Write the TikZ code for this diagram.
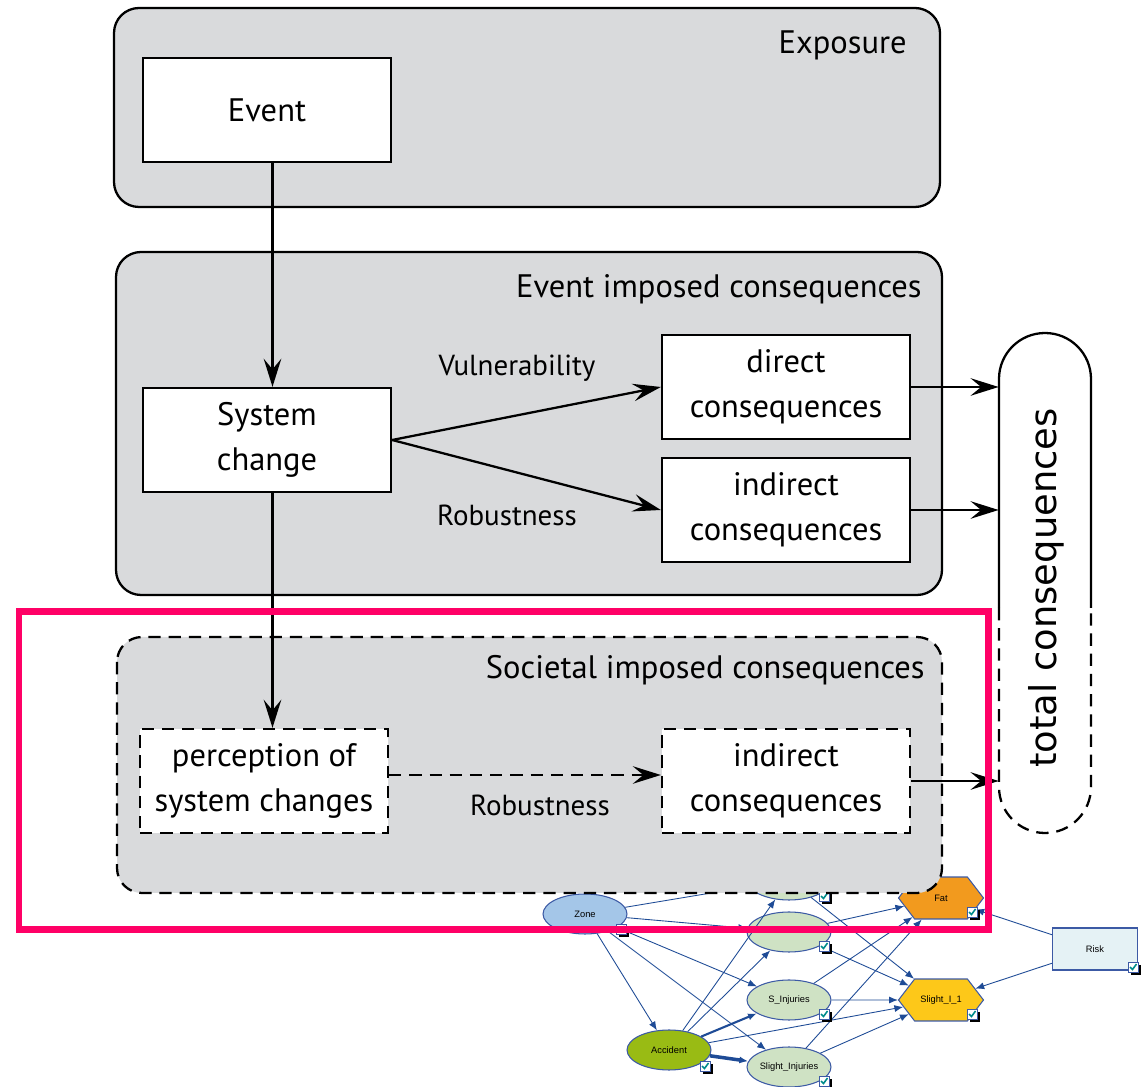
\documentclass[tikz,border=0pt]{standalone}
\usepackage{fontspec}
\setmainfont{PT Sans}
\newfontfamily\totalfont{DejaVu Sans}
\newfontfamily\netfont{Liberation Sans}
\usetikzlibrary{arrows.meta,shapes.geometric,shapes.symbols,positioning}

\definecolor{panelgray}{RGB}{217,218,220}
\definecolor{markpink}{RGB}{255,0,102}
\definecolor{netblue}{RGB}{30,75,150}
\definecolor{netline}{RGB}{60,90,165}
\definecolor{zonefill}{RGB}{164,198,232}
\definecolor{injfill}{RGB}{207,226,196}
\definecolor{accfill}{RGB}{153,187,20}
\definecolor{fatfill}{RGB}{242,154,30}
\definecolor{slightfill}{RGB}{253,200,25}
\definecolor{riskfill}{RGB}{229,242,245}
\definecolor{tickteal}{RGB}{0,140,140}

\tikzset{
  panel/.style={draw=black, fill=panelgray, line width=1.3pt, rounded corners=0.5cm},
  softline/.style={dash pattern=on 7pt off 4.5pt},
  box/.style={draw=black, fill=white, line width=1.3pt, minimum width=4.96cm, minimum height=2.08cm,
    align=center, inner sep=0pt, font=\fontsize{18.5}{25.5}\selectfont},
  softbox/.style={box, softline},
  title/.style={anchor=east, inner sep=0pt, font=\fontsize{18.5}{22}\selectfont},
  lbl/.style={inner sep=0pt, font=\fontsize{16.5}{20}\selectfont},
  flow/.style={line width=1.3pt, -{Stealth[length=16pt,width=10pt,inset=6pt]}},
  bnode/.style={draw=netline, line width=0.6pt, inner sep=0pt, font=\netfont\fontsize{5.3}{6}\selectfont},
  chance/.style={bnode, ellipse, minimum width=1.68cm, minimum height=0.8cm},
  utility/.style={bnode, signal, signal to=west and east, signal pointer angle=105,
    minimum width=1.7cm, minimum height=0.84cm},
  link/.style={draw=netblue, line width=0.5pt, -{Latex[length=5pt,width=4pt]}},
}

% small check box icon of the network tool
\newcommand{\tickicon}[2]{%
  \fill[black] (#1+3,#2+3) rectangle ++(10,10);
  \filldraw[fill=white, draw=netline, line width=0.3pt] (#1,#2) rectangle ++(10,10);
  \draw[tickteal, line width=0.9pt] (#1+2,#2+5) -- (#1+4.5,#2+7.5) -- (#1+8.5,#2+2);
}

\begin{document}
\begin{tikzpicture}[x=0.02cm, y=-0.02cm]
  \useasboundingbox (0,0) rectangle (1144,1087);
  \clip (0,0) rectangle (1144,1087);
  \fill[white] (0,0) rectangle (1144,1087);

  % network underneath
  \node[chance, fill=injfill] (top) at (789,880) {};
  \node[chance, fill=zonefill] (zone) at (585,914) {Zone};
  \node[chance, fill=injfill] (vsinj) at (789,932) {};
  \node[chance, fill=injfill] (sinj) at (789,1000) {S\_Injuries};
  \node[chance, fill=injfill] (slinj) at (789,1067) {Slight\_Injuries};
  \node[chance, fill=accfill] (acc) at (669,1050) {Accident};
  \node[utility, fill=fatfill] (fat) at (941,898) {Fat};
  \node[utility, fill=slightfill] (slight) at (941,1000) {Slight\_I\_1};
  \node[bnode, fill=riskfill, minimum width=1.7cm, minimum height=0.84cm] (risk) at (1095,949) {Risk};

  \draw[link] (zone) -- (top);
  \draw[link] (zone) -- (vsinj);
  \draw[link] (zone) -- (sinj);
  \draw[link] (zone) -- (slinj);
  \draw[link] (zone) -- (acc);
  \draw[link] (acc) -- (top);
  \draw[link] (acc) -- (vsinj);
  \draw[link, line width=1.2pt] (acc) -- (sinj);
  \draw[link, line width=2pt] (acc) -- (slinj);
  \draw[link] (acc) -- (slight);
  \draw[link] (top) -- (slight);
  \draw[link] (vsinj) -- (fat);
  \draw[link] (vsinj) -- (slight);
  \draw[link] (sinj) -- (fat);
  \draw[link] (sinj) -- (slight);
  \draw[link] (slinj) -- (fat);
  \draw[link] (slinj) -- (slight);
  \draw[link] (risk) -- (fat);
  \draw[link] (risk) -- (slight);

  \tickicon{616}{924}
  \tickicon{819}{891}
  \tickicon{819}{941}
  \tickicon{819}{1009}
  \tickicon{819}{1076}
  \tickicon{700}{1061}
  \tickicon{967}{907}
  \tickicon{967}{1009}
  \tickicon{1128}{962}

  % exposure
  \draw[panel] (114,8) rectangle (940,207);
  \node[title] (exptitle) at (907,45) {Exposure};
  \node[box] (event) at (267,110) {Event};

  % event imposed
  \draw[panel] (116,252) rectangle (942,595);
  \node[title] (evtitle) at (922,289) {Event imposed consequences};
  \node[box] (syschange) at (267,440) {System\\change};
  \node[box] (direct) at (786,387) {direct\\consequences};
  \node[box] (indirect) at (786,510) {indirect\\consequences};
  \node[lbl] (vuln) at (517,368) {Vulnerability};
  \node[lbl] (robust) at (507,515) {Robustness};

  % societal imposed
  \draw[panel, softline] (117,637) rectangle (942,893);
  \node[title] (soctitle) at (925,670) {Societal imposed consequences};
  \node[softbox] (perception) at (264,781) {perception of\\system changes};
  \node[softbox] (socindirect) at (786,781) {indirect\\consequences};
  \node[lbl] (socrobust) at (540,805) {Robustness};

  % total
  \node[minimum width=1.84cm, minimum height=10cm, inner sep=0pt] (total) at (1045,583) {};
  \draw[line width=1.3pt, rounded corners=0.92cm] (999,608) -- (999,333) -- (1091,333) -- (1091,608);
  \draw[line width=1.3pt, softline, rounded corners=0.92cm] (999,608) -- (999,833) -- (1091,833) -- (1091,608);
  \node[rotate=90, inner sep=0pt, font=\totalfont\fontsize{21}{24}\selectfont] (totaltext) at (1046,588) {total consequences};

  \coordinate (drop) at ([xshift=0.11cm]event.south);
  \draw[flow] (drop) -- (drop |- syschange.north);
  \draw[flow] (drop |- syschange.south) -- (drop |- perception.north);
  \draw[flow] (syschange.east) -- (direct.west);
  \draw[flow] (syschange.east) -- (indirect.west);
  \draw[flow] (direct.east) -- (direct.east -| total.west);
  \draw[flow] (indirect.east) -- (indirect.east -| total.west);
  \draw[flow, softline] ([yshift=0.12cm]perception.east) -- ([yshift=0.12cm]socindirect.west);
  \draw[flow] (socindirect.east) -- (socindirect.east -| total.west);

  % highlight
  \draw[markpink, line width=0.14cm] (19,612) rectangle (988,930);
\end{tikzpicture}
\end{document}
